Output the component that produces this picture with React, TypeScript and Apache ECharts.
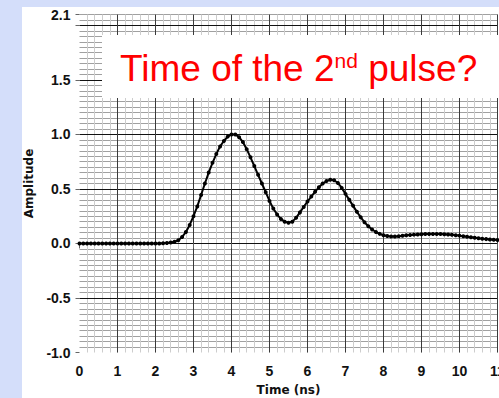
import React, { useEffect, useRef } from "react";
import * as echarts from "echarts";

// Sampling grid of the trace (ns), one sample every 0.1 ns from 0 to 11
const SAMPLE_START = 0;
const SAMPLE_STEP = 0.1;
// Amplitude readings, t = 0.0 ... 11.0 ns
const amplitude: number[] = [
  0, 0, 0, 0, 0, 0, 0, 0, 0, 0,
  0, 0, 0, 0, 0, 0, 0, 0, 0, 0,
  0, 0, 0.002, 0.004, 0.008, 0.015, 0.03, 0.06, 0.105, 0.17,
  0.25, 0.34, 0.445, 0.55, 0.65, 0.74, 0.82, 0.89, 0.94, 0.98,
  1.0, 1.0, 0.975, 0.93, 0.865, 0.79, 0.71, 0.63, 0.55, 0.47,
  0.39, 0.32, 0.265, 0.225, 0.2, 0.19, 0.2, 0.235, 0.285, 0.335,
  0.385, 0.43, 0.475, 0.515, 0.55, 0.572, 0.585, 0.58, 0.555, 0.51,
  0.455, 0.4, 0.345, 0.29, 0.24, 0.195, 0.158, 0.128, 0.105, 0.088,
  0.076, 0.068, 0.064, 0.064, 0.067, 0.071, 0.075, 0.078, 0.081, 0.083,
  0.085, 0.086, 0.087, 0.087, 0.087, 0.086, 0.085, 0.083, 0.08, 0.076,
  0.072, 0.067, 0.062, 0.057, 0.052, 0.047, 0.043, 0.04, 0.037, 0.034,
  0.032,
];

const X_MIN = 0;
const X_MAX = 11;
const X_MAJOR = 1;
const X_MINOR = 0.2;
const Y_MIN = -1;
const Y_MAX = 2.1;
const Y_MAJOR = 0.5;
const Y_MINOR = 0.05;

const xTitle = "Time (ns)";
const yTitle = "Amplitude";
const noteMain = "Time of the 2";
const noteSup = "nd";
const noteEnd = " pulse?";

const App: React.FC = () => {
  const ref = useRef<HTMLDivElement>(null);

  useEffect(() => {
    if (!ref.current) return;
    const chart = echarts.init(ref.current, undefined, { renderer: "svg" });
    const data = amplitude.map((v, i) => [
      Math.round((SAMPLE_START + i * SAMPLE_STEP) * 10) / 10,
      v,
    ]);
    const labelFont = {
      fontFamily: "Liberation Sans",
      fontWeight: "bold" as const,
      fontSize: 14,
      color: "#111",
    };
    chart.setOption({
      animation: false,
      backgroundColor: "#d4defa",
      grid: {
        left: 79.5,
        right: 1.5,
        top: 14.5,
        bottom: 45.5,
        containLabel: false,
        outerBoundsMode: "none",
      },
      graphic: [
        {
          type: "rect",
          z: -10,
          shape: { x: 22, y: 7, width: 480, height: 395 },
          style: { fill: "#ffffff" },
          silent: true,
        },
        {
          type: "rect",
          z: 50,
          shape: { x: 102, y: 35, width: 400, height: 63 },
          style: { fill: "#ffffff" },
          silent: true,
        },
        {
          type: "text",
          z: 51,
          x: 120,
          y: 68,
          style: {
            text: `{a|${noteMain}}{b|${noteSup}}{a|${noteEnd}}`,
            align: "left",
            verticalAlign: "middle",
            rich: {
              a: {
                fill: "#ff0000",
                fontFamily: "Liberation Sans",
                fontSize: 37,
                verticalAlign: "bottom",
              },
              b: {
                fill: "#ff0000",
                fontFamily: "Liberation Sans",
                fontSize: 21,
                verticalAlign: "top",
              },
            },
          },
        },
      ],
      xAxis: [
        {
          type: "value",
          min: X_MIN,
          max: X_MAX,
          interval: X_MAJOR,
          z: 2,
          name: xTitle,
          nameLocation: "middle",
          nameGap: 31,
          nameTextStyle: {
            fontFamily: "DejaVu Sans",
            fontWeight: "bold",
            fontSize: 12,
            color: "#111",
          },
          axisLine: { show: false },
          axisTick: { show: true, length: 5, lineStyle: { color: "#666" } },
          axisLabel: {
            ...labelFont,
            margin: 11,
            formatter: (v: number) => String(Math.round(v)),
          },
          splitLine: {
            show: true,
            showMinLine: false,
            lineStyle: { color: "#3a3a3a", width: 1 },
          },
        },
        {
          type: "value",
          min: X_MIN,
          max: X_MAX,
          interval: X_MINOR,
          z: 0,
          axisLine: { show: false },
          axisTick: { show: false },
          axisLabel: { show: false },
          splitLine: {
            show: true,
            showMinLine: false,
            lineStyle: { color: "#cdcdcd", width: 1 },
          },
        },
      ],
      yAxis: [
        {
          type: "value",
          min: Y_MIN,
          max: Y_MAX,
          interval: Y_MAJOR,
          z: 2,
          name: yTitle,
          nameLocation: "middle",
          nameGap: 40,
          nameTextStyle: {
            fontFamily: "DejaVu Sans",
            fontWeight: "bold",
            fontSize: 12,
            color: "#111",
          },
          axisLine: { show: false },
          axisTick: { show: true, length: 4, lineStyle: { color: "#666" } },
          axisLabel: {
            ...labelFont,
            margin: 9,
            formatter: (v: number) =>
              Math.abs(v - 2) < 1e-9 ? "" : v.toFixed(1),
          },
          splitLine: {
            show: true,
            showMinLine: false,
            showMaxLine: false,
            lineStyle: { color: "#111", width: 1 },
          },
        },
        {
          type: "value",
          min: Y_MIN,
          max: Y_MAX,
          interval: Y_MINOR,
          z: 0,
          axisLine: { show: false },
          axisTick: { show: false },
          axisLabel: { show: false },
          splitLine: {
            show: true,
            showMinLine: false,
            lineStyle: { color: "#a0a0a0", width: 1 },
          },
        },
      ],
      series: [
        {
          type: "line",
          xAxisIndex: 0,
          yAxisIndex: 0,
          z: 5,
          data,
          symbol: "circle",
          symbolSize: 4,
          showSymbol: true,
          lineStyle: { color: "#000", width: 2 },
          itemStyle: { color: "#000" },
        },
      ],
    });
    return () => chart.dispose();
  }, []);

  return (
    <div
      ref={ref}
      style={{ position: "absolute", left: 0, top: 0, width: 499, height: 398 }}
    />
  );
};

export default App;
